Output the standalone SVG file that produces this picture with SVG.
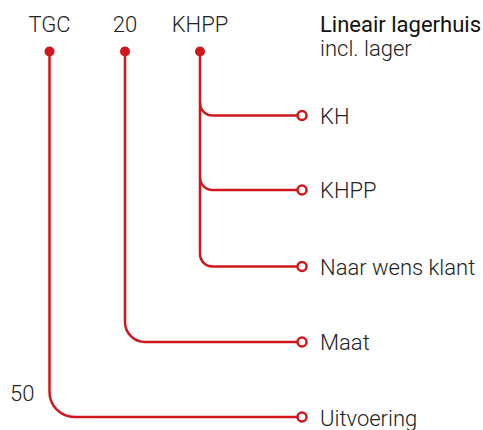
<svg xmlns="http://www.w3.org/2000/svg" width="483" height="430" viewBox="0 0 483 430">
<style>
.t{font-family:Roboto,"Liberation Sans",sans-serif;font-size:22px;fill:#222;font-weight:300}
.b{font-weight:400;fill:#111}
.ln{fill:none;stroke:#d0171d;stroke-width:2.5}
.dot{fill:#d0171d}
.oc{fill:#fff;stroke:#d0171d;stroke-width:2.5}
</style>
<rect width="483" height="430" fill="#fff"/>
<g id="connectors">
<path class="ln" d="M49.5,51.5 V392 A25,25 0 0 0 74.5,417 H297"/>
<path class="ln" d="M125,51.5 V322 A20,20 0 0 0 145,342 H297"/>
<path class="ln" d="M200,51.5 V254 A12.5,12.5 0 0 0 212.5,266.5 H297"/>
<path class="ln" d="M200,103 A12.5,12.5 0 0 0 212.5,115.5 H297"/>
<path class="ln" d="M200,177.5 A12.5,12.5 0 0 0 212.5,190 H297"/>
</g>
<g id="tgc"><text class="t" x="49.5" y="32" text-anchor="middle">TGC</text><circle class="dot" cx="49.5" cy="51.5" r="5"/></g>
<g id="n20"><text class="t" x="125" y="32" text-anchor="middle">20</text><circle class="dot" cx="125" cy="51.5" r="5"/></g>
<g id="khpp"><text class="t" x="200" y="32" text-anchor="middle">KHPP</text><circle class="dot" cx="200" cy="51.5" r="5"/></g>
<g id="title"><text class="t b" x="320" y="32">Lineair lagerhuis</text><text class="t" x="320" y="56">incl. lager</text></g>
<g id="kh"><circle class="oc" cx="302" cy="115.5" r="4.5"/><text class="t" x="320" y="123.5">KH</text></g>
<g id="khpp2"><circle class="oc" cx="302" cy="190" r="4.5"/><text class="t" x="320" y="198">KHPP</text></g>
<g id="naar"><circle class="oc" cx="302" cy="266.5" r="4.5"/><text class="t" x="320" y="274.5">Naar wens klant</text></g>
<g id="maat"><circle class="oc" cx="302" cy="342" r="4.5"/><text class="t" x="320" y="350">Maat</text></g>
<g id="uit"><circle class="oc" cx="302" cy="417" r="4.5"/><text class="t" x="320" y="425.5">Uitvoering</text></g>
<g id="n50"><text class="t" x="10" y="401">50</text></g>
</svg>
